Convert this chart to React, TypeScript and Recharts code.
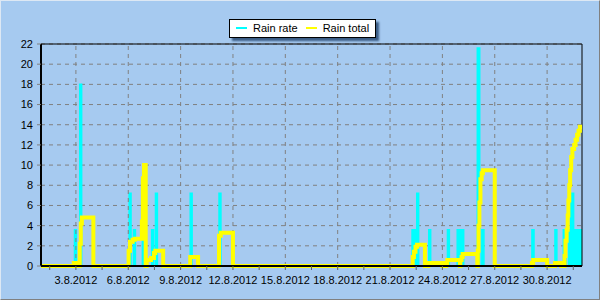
import { ComposedChart, Area, Line, XAxis, YAxis, CartesianGrid, ReferenceLine, Legend } from 'recharts'

const BG = '#a6caf0'
const FONT = "'Liberation Sans', Arial, sans-serif"

// x values are days since 1.8.2012 00:00
const rateTimes = [
  0, 1.92, 2.03, 2.22, 2.33, 5.05, 5.16, 5.3, 5.41, 5.81, 5.93, 6.34, 6.45, 6.56, 6.67,
  8.55, 8.66, 10.2, 10.31, 21.26, 21.45, 21.53, 21.64, 22.22, 22.33, 23.29, 23.4, 23.85, 24.22,
  25.0, 25.14, 25.26, 25.38, 28.13, 28.25, 29.45, 29.56, 29.93, 30.1, 30.23, 30.34, 30.52, 31,
]
const rateValues = [
  0, 3.6, 0, 18.0, 0, 7.2, 0, 3.6, 0, 7.2, 0, 3.6, 0, 7.2, 0,
  7.2, 0, 7.2, 0, 3.6, 0, 7.2, 0, 3.6, 0, 3.6, 0, 3.6, 0,
  21.6, 0, 3.6, 0, 3.6, 0, 3.6, 0, 3.6, 0, 3.6, 7.2, 3.6, 3.6,
]

const totalTimes = [
  0, 1.88, 2.0, 2.22, 2.28, 2.34, 3.0,
  5.02, 5.1, 5.25, 5.38, 5.78, 5.84, 5.9, 6.0,
  6.06, 6.3, 6.47, 6.55, 7.0,
  8.55, 9.0, 10.2, 10.3, 11.0,
  21.3, 21.37, 21.46, 21.55, 22.0, 22.2, 23.0,
  23.22, 23.28, 24.0, 24.03, 24.1, 24.16, 25.0,
  25.03, 25.07, 25.12, 25.18, 25.25, 25.32, 26.0,
  28.13, 28.2, 29.0, 29.45, 29.8,
  30.0, 30.05, 30.12, 30.18, 30.22, 30.27, 30.32, 30.38, 30.45, 30.55, 30.63, 30.72, 30.8, 30.88, 31,
]
const totalValues = [
  0, 0.3, 0, 2.2, 4.2, 4.8, 0,
  1.5, 2.4, 2.6, 2.7, 4.4, 8.7, 10.0, 0,
  0.6, 0.8, 1.3, 1.5, 0,
  0.9, 0, 3.0, 3.3, 0,
  0.9, 1.4, 1.9, 2.1, 0, 0.3, 0,
  0.3, 0.6, 0, 0.6, 0.9, 1.2, 0,
  1.5, 4.0, 6.3, 8.6, 9.2, 9.5, 0,
  0.3, 0.6, 0, 0.3, 0,
  1.0, 2.5, 3.6, 5.0, 6.5, 8.0, 9.5, 10.8, 11.6, 12.0, 12.5, 13.0, 13.4, 13.8, 13.8,
]

const yTicks = [0, 2, 4, 6, 8, 10, 12, 14, 16, 18, 20, 22]
const labelDays = [2, 5, 8, 11, 14, 17, 20, 23, 26, 29]
const tickDays = [0.5, 2, 3.5, 5, 6.5, 8, 9.5, 11, 12.5, 14, 15.5, 17, 18.5, 20, 21.5, 23, 24.5, 26, 27.5, 29, 30.5]
const seriesNames = ['Rain rate', 'Rain total']
const seriesColors = ['#00ffff', '#ffff00']

const rateData = rateTimes.map((t, i) => ({ t, v: rateValues[i] }))
const totalData = totalTimes.map((t, i) => ({ t, v: totalValues[i] }))

function dayLabel(d: number) {
  return labelDays.includes(d) ? `${d + 1}.8.2012` : ''
}

function LegendBox() {
  return (
    <div
      style={{
        display: 'inline-flex',
        alignItems: 'center',
        boxSizing: 'border-box',
        height: 19,
        background: '#fff',
        border: '1px solid #000',
        boxShadow: '3px 3px 2px #3a5c85',
        fontFamily: FONT,
        fontSize: 11,
        color: '#000',
        padding: '0 6px',
        whiteSpace: 'nowrap',
      }}
    >
      {seriesNames.map((n, i) => (
        <span key={n} style={{ display: 'flex', alignItems: 'center', marginLeft: i ? 8 : 0, flexShrink: 0 }}>
          <span style={{ display: 'inline-block', width: 11, height: 2, background: seriesColors[i], marginRight: 6 }} />
          {n}
        </span>
      ))}
    </div>
  )
}

export default function App() {
  return (
    <div
      style={{
        position: 'absolute',
        left: 0,
        top: 0,
        width: 600,
        height: 300,
        boxSizing: 'border-box',
        background: BG,
        borderTop: '1px solid #dde8f4',
        borderLeft: '1px solid #dde8f4',
        borderRight: '1px solid #808080',
        borderBottom: '1px solid #808080',
        overflow: 'hidden',
      }}
    >
      <div style={{ position: 'absolute', left: -1, top: -1 }}>
        <ComposedChart width={600} height={300} margin={{ top: 44, right: 18, bottom: 0, left: 0 }}>
          <CartesianGrid vertical={false} stroke="#808080" strokeDasharray="4 4" />
          {labelDays.map((d) => (
            <ReferenceLine key={d} x={d} stroke="#808080" strokeDasharray="4 4" />
          ))}
          <XAxis
            dataKey="t"
            type="number"
            domain={[0, 31]}
            allowDataOverflow
            ticks={tickDays}
            interval={0}
            tickFormatter={dayLabel}
            height={34}
            tickSize={4}
            tickMargin={6}
            tick={{ fill: '#000', fontSize: 11, fontFamily: FONT }}
            tickLine={{ stroke: '#606060' }}
            axisLine={{ stroke: '#000', strokeWidth: 2 }}
          />
          <YAxis
            type="number"
            domain={[0, 22]}
            ticks={yTicks}
            interval={0}
            width={41}
            tickSize={4}
            tickMargin={4}
            tick={{ fill: '#000', fontSize: 11, fontFamily: FONT }}
            tickLine={{ stroke: '#808080' }}
            axisLine={{ stroke: '#000', strokeWidth: 2 }}
          />
          <ReferenceLine y={22} stroke="#000" />
          <ReferenceLine x={31} stroke="#000" />
          <Area
            data={rateData}
            dataKey="v"
            name={seriesNames[0]}
            type="stepAfter"
            stroke={seriesColors[0]}
            strokeWidth={1.5}
            fill={seriesColors[0]}
            fillOpacity={1}
            dot={false}
            activeDot={false}
            isAnimationActive={false}
          />
          <Line
            data={totalData}
            dataKey="v"
            name={seriesNames[1]}
            type="stepAfter"
            stroke={seriesColors[1]}
            strokeWidth={4}
            dot={false}
            activeDot={false}
            isAnimationActive={false}
          />
          <Legend
            layout="vertical"
            align="center"
            verticalAlign="middle"
            wrapperStyle={{ top: 15, left: 229, width: 'auto', height: 19 }}
            content={<LegendBox />}
          />
        </ComposedChart>
      </div>
    </div>
  )
}
